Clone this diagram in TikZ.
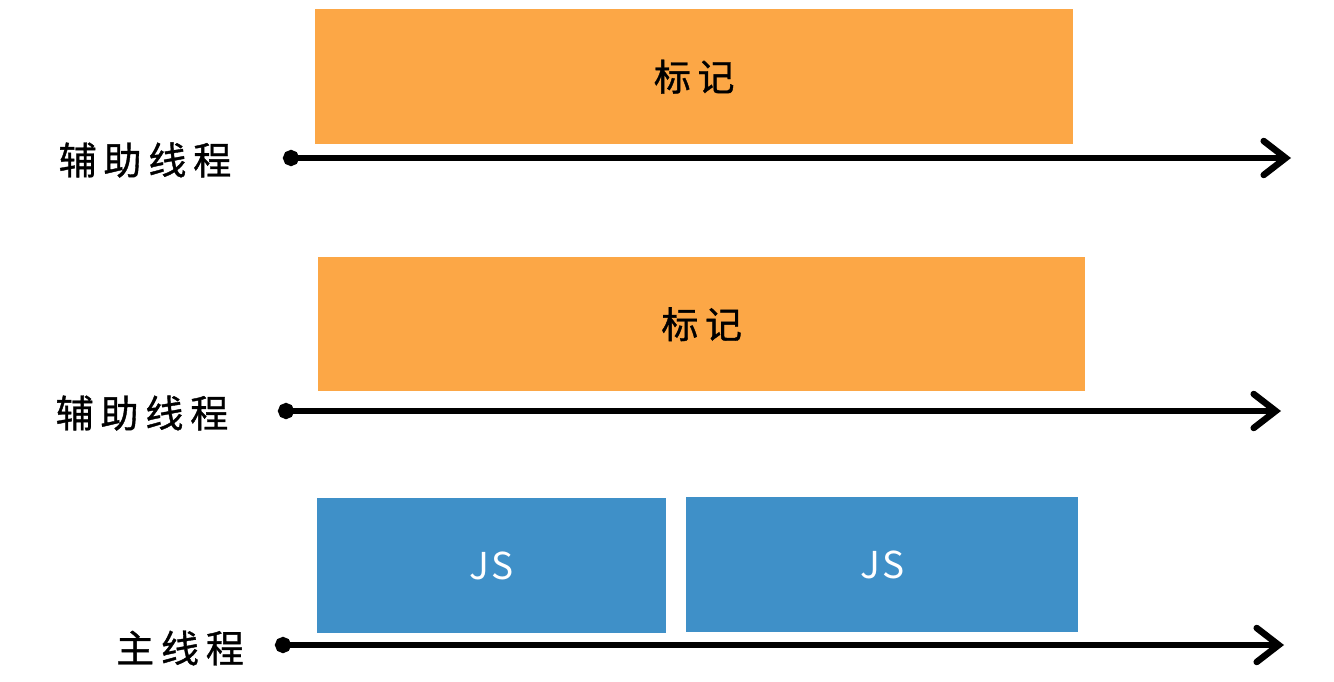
\documentclass[tikz,border=0pt]{standalone}
\usepackage{fontspec}
\setmainfont{Noto Sans CJK SC}
\usetikzlibrary{arrows.meta,positioning}
\definecolor{markorange}{HTML}{FCA746}
\definecolor{jsblue}{HTML}{3F90C8}

\begin{document}
\begin{tikzpicture}[x=1pt, y=-1pt]
\tikzstyle{blk}=[anchor=north west, inner sep=0pt,
                 font=\fontsize{37}{40}\selectfont\addfontfeature{LetterSpace=18,FakeBold=1}]
\tikzstyle{jsblk}=[blk, fill=jsblue, text=white,
                   font=\fontsize{37}{40}\selectfont\addfontfeature{LetterSpace=6}]
\tikzstyle{lbl}=[inner sep=0pt, font=\fontsize{38}{40}\selectfont\addfontfeature{LetterSpace=18,FakeBold=1}]
\tikzstyle{axis}=[line width=6.5pt, line cap=round,
                  {Circle[length=16pt]}-{Straight Barb[length=22pt, width=34pt, line cap=round]}]
\useasboundingbox (0,0) rectangle (1334,682);
% boxes
\node[blk, fill=markorange, minimum width=758pt, minimum height=135pt] (mark1) at (315,9) {标记};
\node[blk, fill=markorange, minimum width=767pt, minimum height=134pt] (mark2) at (318,257) {标记};
\node[jsblk, minimum width=349pt, minimum height=135pt] (js1) at (317,498) {JS};
\node[jsblk, minimum width=392pt, minimum height=135pt] (js2) at (686,497) {JS};
% time lines
\coordinate (s1) at (283,158); \coordinate (e1) at (1291,158);
\coordinate (s2) at (278,411); \coordinate (e2) at (1281,411);
\coordinate (s3) at (275,645); \coordinate (e3) at (1284,645);
\foreach \i in {1,2,3}{\draw[axis] (s\i) -- (e\i);}
% thread names
\node[lbl] (helper1) at (145,160) {辅助线程};
\node[lbl] (helper2) at (142,413) {辅助线程};
\node[lbl] (main) at (180,648) {主线程};
\end{tikzpicture}
\end{document}
